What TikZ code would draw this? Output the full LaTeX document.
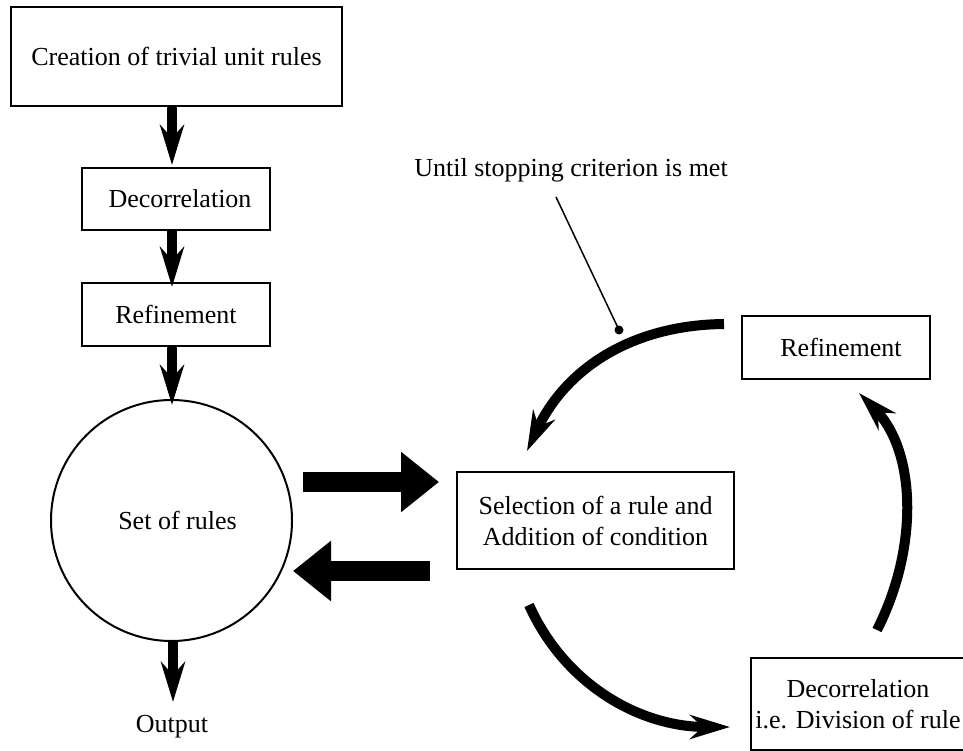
\documentclass[tikz,border=0pt]{standalone}
\usepackage{fontspec}
\setmainfont{Liberation Serif}
\usetikzlibrary{arrows.meta}
\begin{document}
\begin{tikzpicture}[x=1pt,y=-1pt,
  every node/.style={font=\fontsize{26}{31}\selectfont, inner sep=0pt},
  box/.style={draw, line width=2pt, rectangle, align=center},
  ring/.style={draw, line width=2pt, circle, minimum size=241pt},
  thin arrow/.style={line width=10pt, -{Stealth[length=40pt,width=24pt,inset=13pt]}},
  block arrow/.style={line width=20pt, -{Triangle[length=38pt,width=58pt]}},
  pointer/.style={line width=1.5pt}]
\useasboundingbox (0,0) rectangle (963,751);

% nodes
\node[box, minimum width=331pt, minimum height=99pt] (create) at (176.5,56.5) {Creation of trivial unit rules};
\node[box, minimum width=188pt, minimum height=62pt] (dec1) at (176,199) {\hspace*{8pt}Decorrelation};
\node[box, minimum width=188pt, minimum height=63pt] (ref1) at (176,314.5) {Refinement};
\node[ring] (set) at (171.5,520.5) {\hspace*{12pt}Set of rules};
\node (out) at (172,727) {Output};
\node[box, minimum width=277pt, minimum height=97pt] (sel) at (595.5,520.5) {Selection of a rule and\\Addition of condition};
\node[box, minimum width=188pt, minimum height=63pt] (ref2) at (836,347.5) {\hspace*{10pt}Refinement};
\node[box, minimum width=214pt, minimum height=92pt] (dec2) at (858,704) {Decorrelation\\i.e. Division of rule};
\node (until) at (571,170) {Until stopping criterion is met};

% coordinates for free ends
\coordinate (t1) at (172,165);
\coordinate (t2) at (172,287);
\coordinate (t3) at (172,405);
\coordinate (t4) at (173,702);
\coordinate (r1) at (303,482);
\coordinate (r2) at (439,482);
\coordinate (l1) at (430,571);
\coordinate (l2) at (293,571);
\coordinate (a1) at (724,324);
\coordinate (a2) at (527,451);
\coordinate (b1) at (529,605);
\coordinate (b2) at (730,727);
\coordinate (c1) at (877,630);
\coordinate (c2) at (859,393);
\coordinate (p1) at (556,197);
\coordinate (dot) at (619,330);

% vertical arrows
\draw[thin arrow] (create.south -| t1) -- (t1);
\draw[thin arrow] (dec1.south -| t2) -- (t2);
\draw[thin arrow] (ref1.south -| t3) -- (t3);
\draw[thin arrow] (set.south -| t4) -- (t4);

% block arrows
\draw[block arrow] (r1) -- (r2);
\draw[block arrow] (l1) -- (l2);

% curved arrows
\draw[thin arrow] (a1) .. controls (630,325) and (565,370) .. (a2);
\draw[thin arrow] (b1) .. controls (565,685) and (640,727) .. (b2);
\draw[thin arrow] (c1) .. controls (920,545) and (915,450) .. (c2);

% pointer
\draw[pointer] (p1) -- (dot);
\fill (dot) circle (4.5pt);
\end{tikzpicture}
\end{document}
